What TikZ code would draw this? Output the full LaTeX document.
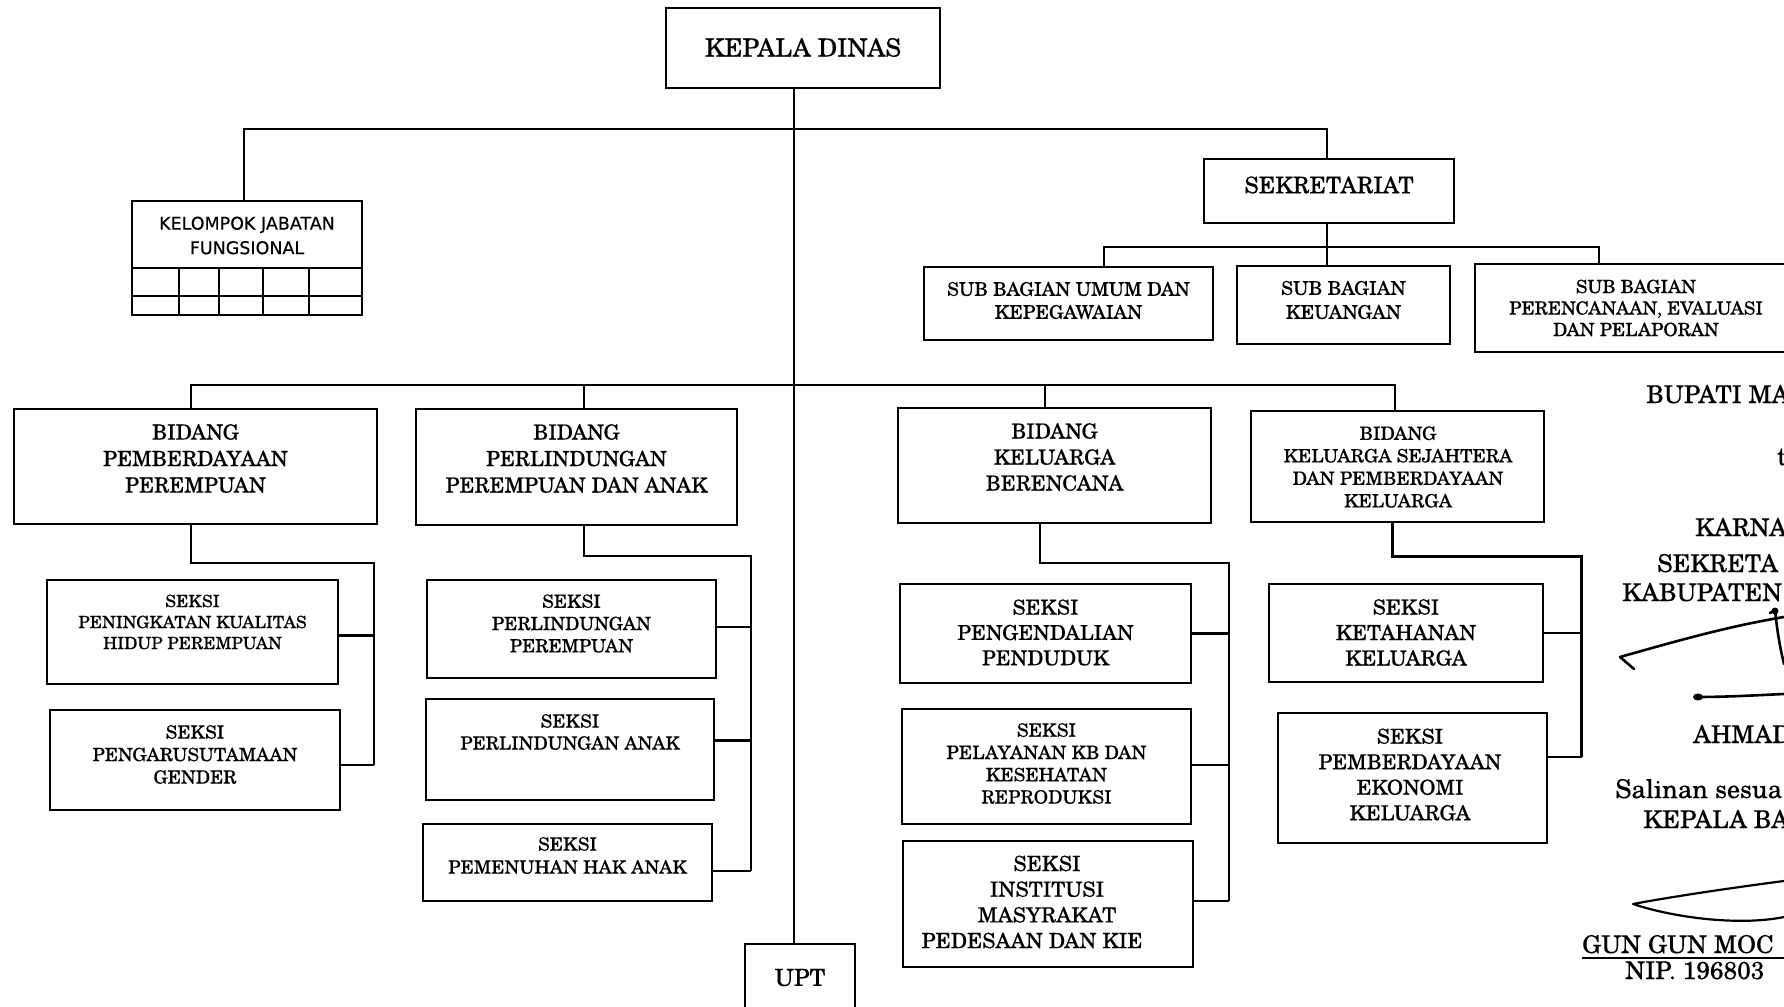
\documentclass[tikz,border=0pt]{standalone}
\usepackage{fontspec}
\setmainfont{texgyreschola}[Extension=.otf, UprightFont=*-regular, BoldFont=*-bold, ItalicFont=*-italic, BoldItalicFont=*-bolditalic, UprightFeatures={FakeBold=0.35}]
\newfontfamily\kjffont{DejaVu Sans}[FakeBold=0.3]
\newcommand\fsz[2]{\fontsize{#1pt}{#2pt}\selectfont}
\begin{document}
\begin{tikzpicture}[x=1pt,y=-1pt,
  box/.style={draw, rectangle, line width=2.2pt, inner sep=0pt},
  txt/.style={align=center, inner sep=0pt},
  conn/.style={line width=2.2pt},
  sig/.style={line width=2.6pt, line cap=round, line join=round},
  note/.style={anchor=base west, inner sep=0pt, font=\fsz{24.5}{29}}]
\useasboundingbox (0,0) rectangle (1784,1006);
\clip (0,0) rectangle (1784,1006);
\fill[white] (0,0) rectangle (1784,1006);

% ---------- boxes ----------
\node[box, minimum width=274pt, minimum height=80pt]  (kd)   at (803,48) {};
\node[box, minimum width=230pt, minimum height=114pt] (kjf)  at (247,258) {};
\node[box, minimum width=250pt, minimum height=64pt]  (sek)  at (1329,191) {};
\node[box, minimum width=289pt, minimum height=73pt]  (sb1)  at (1068.5,303.5) {};
\node[box, minimum width=213pt, minimum height=78pt]  (sb2)  at (1343.5,305) {};
\node[box, minimum width=322pt, minimum height=88pt]  (sb3)  at (1636,308) {};
\node[box, minimum width=363pt, minimum height=115pt] (bpp)  at (195.5,466.5) {};
\node[box, minimum width=321pt, minimum height=116pt] (bppa) at (576.5,467) {};
\node[box, minimum width=313pt, minimum height=115pt] (bkb)  at (1054.5,465.5) {};
\node[box, minimum width=293pt, minimum height=111pt] (bks)  at (1397.5,466.5) {};
\node[box, minimum width=291pt, minimum height=104pt] (s1)   at (192.5,632) {};
\node[box, minimum width=290pt, minimum height=100pt] (s2)   at (195,760) {};
\node[box, minimum width=289pt, minimum height=98pt]  (s3)   at (571.5,629) {};
\node[box, minimum width=288pt, minimum height=101pt] (s4)   at (570,749.5) {};
\node[box, minimum width=289pt, minimum height=77pt]  (s5)   at (567.5,862.5) {};
\node[box, minimum width=291pt, minimum height=99pt]  (s6)   at (1045.5,633.5) {};
\node[box, minimum width=289pt, minimum height=115pt] (s7)   at (1046.5,766.5) {};
\node[box, minimum width=290pt, minimum height=126pt] (s8)   at (1048,904) {};
\node[box, minimum width=274pt, minimum height=98pt]  (s9)   at (1406,633) {};
\node[box, minimum width=269pt, minimum height=130pt] (s10)  at (1412.5,778) {};
\node[box, minimum width=110pt, minimum height=86pt]  (upt)  at (800,987) {};

% grid under the functional group title
\draw[conn] (kjf.west |- 0,268) -- (kjf.east |- 0,268);
\draw[conn] (kjf.west |- 0,296) -- (kjf.east |- 0,296);
\foreach \gx in {179,219,263,309}
  \draw[conn] (\gx,268) -- (\gx,315);

% ---------- texts ----------
\node[txt, font=\fsz{25}{29}]     (kd-t)   at (803,47.5)    {KEPALA DINAS};
\node[txt, font=\kjffont\fsz{17.5}{24.5}] (kjf-t) at (247,235.5) {KELOMPOK JABATAN\\FUNGSIONAL};
\node[txt, font=\fsz{22.8}{26}]   (sek-t)  at (1329,185)    {SEKRETARIAT};
\node[txt, font=\fsz{18.8}{23}]   (sb1-t)  at (1068.5,300.5) {SUB BAGIAN UMUM DAN\\KEPEGAWAIAN};
\node[txt, font=\fsz{19}{24}]     (sb2-t)  at (1343.5,300)  {SUB BAGIAN\\KEUANGAN};
\node[txt, font=\fsz{18.3}{21.5}] (sb3-t)  at (1636,308)    {SUB BAGIAN\\PERENCANAAN, EVALUASI\\DAN PELAPORAN};
\node[txt, font=\fsz{20.9}{26.5}] (bpp-t)  at (195.5,458.5) {BIDANG\\PEMBERDAYAAN\\PEREMPUAN};
\node[txt, font=\fsz{20.8}{26.5}] (bppa-t) at (576.5,458.5) {BIDANG\\PERLINDUNGAN\\PEREMPUAN DAN ANAK};
\node[txt, font=\fsz{20.8}{26}]   (bkb-t)  at (1054.5,457)  {BIDANG\\KELUARGA\\BERENCANA};
\node[txt, font=\fsz{18.5}{22.5}] (bks-t)  at (1398,467)    {BIDANG\\KELUARGA SEJAHTERA\\DAN PEMBERDAYAAN\\KELUARGA};
\node[txt, font=\fsz{17}{21}]     (s1-t)   at (192.5,622)   {SEKSI\\PENINGKATAN KUALITAS\\HIDUP PEREMPUAN};
\node[txt, font=\fsz{18.3}{22.5}] (s2-t)   at (195,754.5)   {SEKSI\\PENGARUSUTAMAAN\\GENDER};
\node[txt, font=\fsz{18.3}{22.3}] (s3-t)   at (571.5,623.5) {SEKSI\\PERLINDUNGAN\\PEREMPUAN};
\node[txt, font=\fsz{18.3}{22}]   (s4-t)   at (570,732)     {SEKSI\\PERLINDUNGAN ANAK};
\node[txt, font=\fsz{18.4}{23}]   (s5-t)   at (567.5,855.5) {SEKSI\\PEMENUHAN HAK ANAK};
\node[txt, font=\fsz{20.6}{25.3}] (s6-t)   at (1045.5,632.5) {SEKSI\\PENGENDALIAN\\PENDUDUK};
\node[txt, font=\fsz{18.5}{22.3}] (s7-t)   at (1046.5,763.5) {SEKSI\\PELAYANAN KB DAN\\KESEHATAN\\REPRODUKSI};
\node[txt, font=\fsz{21}{25.7}]   (s8-t)   at (1047,902)    {SEKSI\\INSTITUSI\\MASYRAKAT\\PEDESAAN DAN KIE\hspace*{30pt}};
\node[txt, font=\fsz{20.8}{25.5}] (s9-t)   at (1406,632.5)  {SEKSI\\KETAHANAN\\KELUARGA};
\node[txt, font=\fsz{20.7}{25.5}] (s10-t)  at (1410,774.5)  {SEKSI\\PEMBERDAYAAN\\EKONOMI\\KELUARGA};
\node[txt, font=\fsz{23.5}{27}]   (upt-t)  at (800,977.5)   {UPT};

% ---------- connectors ----------
\coordinate (tk) at (794,0);
\coordinate (busA) at (794,129);
\coordinate (busB) at (794,385);
\coordinate (sbus) at (1327,247);

% main trunk to UPT
\draw[conn] (kd.south -| tk) -- (upt.north -| tk);
% staff line: functional group and secretariat
\draw[conn] ([xshift=-3pt]kjf.north) |- (busA) -| ([xshift=-2pt]sek.north);
% secretariat to its sub-sections
\draw[conn] (sek.south -| sbus) -- (sb2.north -| sbus);
\draw[conn] ([xshift=35.5pt]sb1.north) |- (sbus) -| ([xshift=-37pt]sb3.north);
% line to the four divisions
\draw[conn] ([xshift=-4.5pt]bpp.north) |- (busB) -| ([xshift=-2.5pt]bks.north);
\draw[conn] ([xshift=7.5pt]bppa.north) -- ([xshift=7.5pt]bppa.north |- busB);
\draw[conn] ([xshift=-9.5pt]bkb.north) -- ([xshift=-9.5pt]bkb.north |- busB);

% division: pemberdayaan perempuan
\coordinate (r1) at (374,563);
\coordinate (b1) at ([yshift=-3.5pt]s1.east);
\coordinate (b2) at ([yshift=-5pt]s2.east);
\draw[conn] ([xshift=-4.5pt]bpp.south) |- (r1) -- (b2 -| r1);
\draw[conn] (b1) -- (b1 -| r1);
\draw[conn] (b2) -- (b2 -| r1);

% division: perlindungan perempuan dan anak
\coordinate (r2) at (751,556);
\coordinate (b3) at ([yshift=2pt]s3.east);
\coordinate (b4) at ([yshift=9pt]s4.east);
\coordinate (b5) at ([yshift=-8.5pt]s5.east);
\draw[conn] ([xshift=7.5pt]bppa.south) |- (r2) -- (b5 -| r2);
\draw[conn] (b3) -- (b3 -| r2);
\draw[conn] (b4) -- (b4 -| r2);
\draw[conn] (b5) -- (b5 -| r2);

% division: keluarga berencana
\coordinate (r3) at (1229,563);
\coordinate (b6) at (s6.east);
\coordinate (b7) at ([yshift=1.5pt]s7.east);
\coordinate (b8) at ([yshift=3pt]s8.east);
\draw[conn] ([xshift=-14.5pt]bkb.south) |- (r3) -- (b8 -| r3);
\draw[conn] (b6) -- (b6 -| r3);
\draw[conn] (b7) -- (b7 -| r3);
\draw[conn] (b8) -- (b8 -| r3);

% division: keluarga sejahtera
\coordinate (r4) at (1581.5,556.5);
\coordinate (b9) at (s9.east);
\coordinate (b10) at ([yshift=21pt]s10.east);
\draw[conn] ([xshift=-5pt]bks.south) |- (r4) -- (b10 -| r4);
\draw[conn] (b9) -- (b9 -| r4);
\draw[conn] (b10) -- (b10 -| r4);

% ---------- endorsement block at the right margin ----------
\node[note] (n1) at (1646,403) {BUPATI MA};
\node[note] (n2) at (1777,465) {t};
\node[note] (n3) at (1695,536) {KARNA};
\node[note] (n4) at (1657,572) {SEKRETA};
\node[note] (n5) at (1622,601) {KABUPATEN};
\node[note] (n6) at (1693,743) {AHMAD};
\node[note, font=\fsz{25.8}{29}] (n7) at (1615,798) {Salinan sesua};
\node[note] (n8) at (1643,828) {KEPALA BA};
\node[note] (n9) at (1582,953) {GUN GUN MOC};
\node[note] (n10) at (1625,979) {NIP. 196803};
\draw[line width=1.5pt] (n9.base west) ++(0,5) -- (1784,958);

% signatures
\draw[sig] (1634,669) -- (1620,657) .. controls (1680,640) and (1730,626) .. (1784,617);
\draw[sig] (1770,613) -- (1775,610) .. controls (1777,630) and (1780,648) .. (1784,664);
\fill (1775,611) circle (3.5pt);
\draw[sig] (1695,697) .. controls (1730,697) and (1760,695) .. (1784,694);
\fill (1698,697) ellipse (5pt and 3.5pt);
\draw[line width=2.2pt, line cap=round, line join=round]
  (1784,881) .. controls (1730,888) and (1670,897) .. (1633,904)
  .. controls (1675,918) and (1740,926) .. (1784,917);
\end{tikzpicture}
\end{document}
